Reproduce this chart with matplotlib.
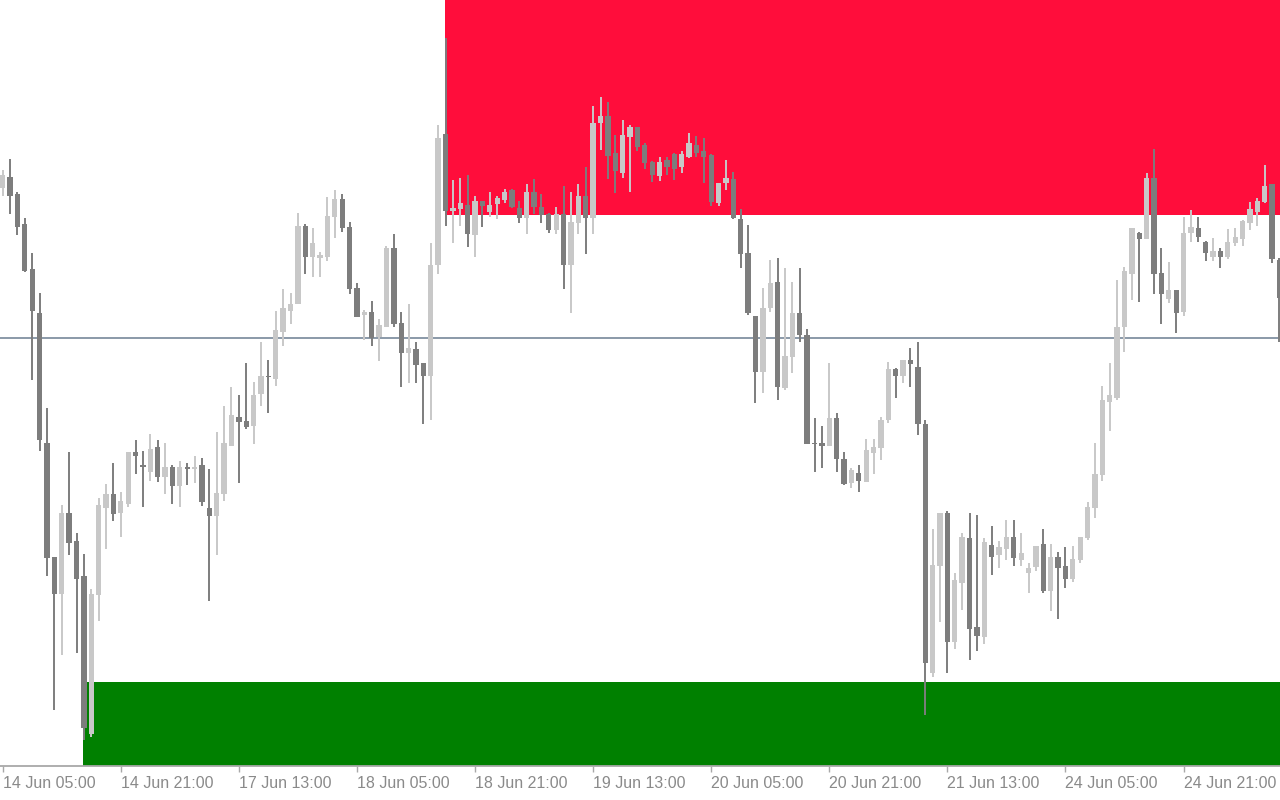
import matplotlib
matplotlib.use("Agg")
import matplotlib.pyplot as plt
import numpy as np
from matplotlib.patches import Rectangle

# ---- data (hourly bars) ----
opens = [612.4, 623.3, 606, 576, 531, 487, 357, 242.5, 206, 287, 259, 224, 66, 205, 291.5, 306, 287, 296, 348, 335,
         328.4, 353, 322.5, 333.2, 313.6, 333.2, 331, 335, 292, 284, 306, 354, 383, 378.6, 374.3, 406, 424.3, 421, 468, 489,
         496, 574.3, 543, 542, 543, 583.3, 601, 573.3, 512.3, 485, 488.3, 463.3, 473.3, 552, 477.3, 447, 451.3, 437, 424, 535,
         666, 589.3, 591, 595, 565, 599.3, 588.3, 596, 600, 610, 592, 582, 608.3, 593.3, 586, 570, 586, 535, 577.3, 604,
         582, 677.3, 684, 647.3, 627, 663.3, 673, 655, 638.3, 624, 640, 646, 633.3, 643.3, 655, 649, 645, 597.3, 617, 621,
         580.7, 547.3, 484, 428.3, 492, 518.3, 412, 443.3, 487, 465, 356.7, 357.3, 354.3, 382, 341, 317, 327, 318.3, 347, 352.3,
         380, 431, 424.3, 440, 433, 376, 127, 234, 287.3, 158.3, 217.3, 262, 173, 163.3, 255, 245, 251, 263.3, 240, 227,
         233.3, 256, 209.3, 243.3, 234, 221, 240, 262, 292, 325, 398.3, 402, 473, 526, 567.3, 561, 622, 527.3, 501, 510,
         488.3, 567, 572, 558.3, 543, 549.3, 543, 557.3, 561, 577.3, 588.3, 598.3, 616, 540]
highs = [630, 641, 608, 582, 547.4, 507, 392, 242.5, 295, 348, 267, 246, 211, 302.4, 316, 337, 308, 348, 360, 349,
         366, 360, 357, 335, 339, 337, 344, 342, 331.4, 368, 394, 413, 405.4, 437, 418, 458, 440.4, 488.6, 511, 507,
         587, 576, 572, 548.3, 603, 610, 606, 578.3, 517, 490, 499, 481, 554.3, 566, 488.3, 496, 458.3, 437.3, 557, 675,
         762, 620, 622, 625, 604, 599.3, 608.3, 604, 611, 611, 599.3, 616, 621, 606, 587, 593.3, 614, 608.3, 616, 633,
         694, 703, 698.3, 665, 680, 675, 673.3, 657, 639.3, 643.3, 643, 647, 649.3, 667.3, 664, 662, 646, 617.3, 640, 628.3,
         591, 575, 484, 512, 540, 542, 532.3, 518, 532.3, 471, 382, 374, 437, 387, 348, 332, 335, 361, 361, 383.3,
         438, 432, 440, 452, 458, 380, 271, 287, 289.3, 227.3, 267, 287, 285, 262, 274, 259.3, 280, 280, 267, 237,
         254, 271, 256, 248.3, 253.3, 254, 263.3, 298.3, 357.3, 414, 437, 520, 533, 572, 568.3, 627.3, 651, 552, 538.3, 510,
         583, 590, 583, 559.3, 562, 552, 571, 572, 580, 598.3, 602, 635, 616, 542]
lows = [604, 586.4, 565, 528, 419.5, 349, 223.5, 90, 145, 245, 147, 59.5, 63, 179, 251, 278.5, 262.5, 293, 326, 293,
        319, 318, 306.4, 296.4, 293, 315.4, 317, 294, 199.3, 245, 299, 354, 317, 371, 356.4, 394, 387, 414, 454, 476,
        496, 526, 523, 523, 539.3, 562, 568.3, 506, 483.3, 460, 454, 439.3, 473.3, 473, 413.3, 417, 417, 376, 380, 526,
        574, 557.3, 574, 553.3, 543, 573, 583, 581, 597.3, 592, 577.3, 566, 586, 577.3, 567, 566, 511, 487.3, 566, 546,
        566, 650, 621, 607.3, 622, 608.3, 649.3, 631, 618.3, 619.3, 625, 620, 627.3, 641.7, 643.3, 617, 594, 594, 610, 580.7,
        532, 485, 397, 407.3, 488, 400, 410, 427, 458, 356, 328.3, 332, 354.3, 328.3, 315, 312, 308, 318, 326, 340,
        377, 402, 417, 413.3, 365, 85, 123.3, 178.3, 127, 151, 190, 140, 149.3, 156, 225, 232, 240, 234, 234, 207,
        229.3, 207.3, 189.3, 180.7, 212, 218.3, 237, 260, 282, 319.3, 369.3, 400, 448.3, 500, 498.3, 561, 506, 476, 497.3, 467.3,
        484, 558.3, 558.3, 539.3, 539.3, 532, 541, 554, 554, 570, 574, 597.3, 537.3, 458]
closes = [625.4, 603.8, 573.4, 529, 489, 360, 242, 206, 287, 257, 221, 72, 206, 295, 306, 286.3, 299, 348, 344, 333,
          351, 323, 333.2, 313.6, 332.5, 330.7, 333, 297.5, 284, 307, 357, 385, 378, 372.5, 405.4, 424.3, 422.5, 470, 492, 496,
          574, 543, 557, 545, 584, 601, 572, 511, 483.3, 488.3, 462, 475, 552, 476, 447, 452, 435, 424, 535, 662,
          589.3, 592, 597.3, 566, 599.3, 594, 595, 602, 608.3, 593, 582, 608.3, 593, 585, 570, 586, 535, 578.3, 604, 582,
          677, 684, 644, 629.3, 665, 673.3, 653.3, 637, 625, 638.3, 633.3, 631, 646, 657, 647.3, 643, 598.3, 617.3, 622, 582,
          546, 487, 428.3, 492, 517, 413.3, 444.3, 487, 465, 356, 355.7, 354.3, 382, 341, 316, 330, 319, 350, 353.3, 380,
          431, 424.3, 440, 436, 376, 137, 235, 287, 158.3, 220, 263.3, 171, 164, 258.3, 243.3, 253.3, 263.3, 242, 247, 232,
          254, 209.3, 243.3, 232, 221, 241, 263, 293, 326, 400, 405, 473.3, 529.3, 572, 561, 622, 526, 506, 510, 487.3,
          567.3, 573.3, 563.3, 547, 549.3, 543, 558.3, 563, 579.3, 591, 599.3, 614, 541, 502]

tick_bars = [0, 16, 32, 48, 64, 80, 96, 112, 128, 144, 160]
tick_labels = ["14 Jun 05:00", "14 Jun 21:00", "17 Jun 13:00", "18 Jun 05:00", "18 Jun 21:00",
               "19 Jun 13:00", "20 Jun 05:00", "20 Jun 21:00", "21 Jun 13:00", "24 Jun 05:00",
               "24 Jun 21:00"]

level_line = 462          # horizontal level
supply_zone = (585, 900)  # price range of red zone
demand_zone = (0, 117.5)  # price range of green zone
supply_start = 59.9       # bar where red zone starts
demand_start = 10.84      # bar where green zone starts

# ---- plot ----
o = np.array(opens); h = np.array(highs); l = np.array(lows); c = np.array(closes)
x = np.arange(len(o))
bull = c >= o

fig = plt.figure(figsize=(12.8, 8), dpi=100)
ax = fig.add_axes([0, 0.0419, 1, 0.9581])
ax.set_xlim(-0.366, 173.07)
ax.set_ylim(33.5, 800)

ax.add_patch(Rectangle((supply_start, supply_zone[0]), 300, supply_zone[1] - supply_zone[0],
                       facecolor="#ff0d3b", edgecolor="none", zorder=1))
ax.add_patch(Rectangle((demand_start, demand_zone[0]), 300, demand_zone[1] - demand_zone[0],
                       facecolor="#008000", edgecolor="none", zorder=1))
ax.axhline(level_line, color="#778899", lw=1.2, zorder=2)

light = "#c8c8c8"
dark = "#7d7d7d"
cols = np.where(bull, light, dark)
ax.vlines(x, l, h, colors=cols, lw=1.4, zorder=3)
body_low = np.minimum(o, c)
body_h = np.maximum(np.abs(c - o), 1.6)
ax.bar(x, body_h, bottom=body_low, width=0.72, color=cols, edgecolor="none", zorder=4)

for s in ["top", "left", "right"]:
    ax.spines[s].set_visible(False)
ax.spines["bottom"].set_color("#a8a8a8")
ax.spines["bottom"].set_linewidth(1.3)
ax.set_yticks([])
ax.set_xticks(tick_bars)
ax.set_xticklabels(tick_labels, fontfamily="Liberation Sans", fontsize=11.5, color="#8a8a8a")
ax.tick_params(axis="x", direction="out", length=4.5, width=1, color="#a8a8a8", pad=2.5)
for lbl in ax.get_xticklabels():
    lbl.set_horizontalalignment("left")

fig.savefig("out.png", dpi=100, facecolor="white")
